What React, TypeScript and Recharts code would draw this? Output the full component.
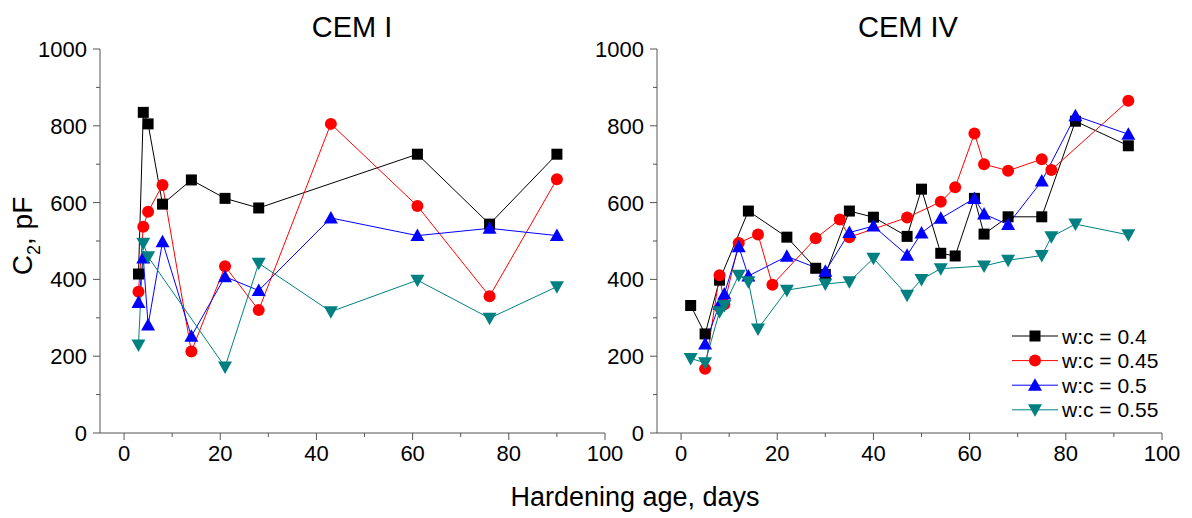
import { LineChart, Line, XAxis, YAxis, Legend } from 'recharts';

const FONT = 'Arial, "Liberation Sans", sans-serif';
const AXIS = '#555';

// series labels, colours, marker shapes
const seriesNames = ['w:c = 0.4', 'w:c = 0.45', 'w:c = 0.5', 'w:c = 0.55'];
const seriesColors = ['#000000', '#ff0000', '#0000ff', '#008080'];
const seriesShapes = ['square', 'circle', 'up', 'down'];

const xTicks = [0, 10, 20, 30, 40, 50, 60, 70, 80, 90, 100];
const yTicks = [0, 100, 200, 300, 400, 500, 600, 700, 800, 900, 1000];

// CEM I
const cem1Age04 = [3, 4, 5, 8, 14, 21, 28, 61, 76, 90];
const cem1C04 = [414, 835, 805, 596, 659, 611, 586, 726, 544, 726];
const cem1Age045 = [3, 4, 5, 8, 14, 21, 28, 43, 61, 76, 90];
const cem1C045 = [368, 537, 576, 646, 212, 434, 320, 805, 591, 356, 661];
const cem1Age05 = [3, 4, 5, 8, 14, 21, 28, 43, 61, 76, 90];
const cem1C05 = [340, 456, 281, 498, 252, 407, 371, 560, 514, 533, 514];
const cem1Age055 = [3, 4, 5, 21, 28, 43, 61, 76, 90];
const cem1C055 = [229, 494, 459, 172, 442, 316, 398, 299, 381];

// CEM IV
const cem4Age04 = [2, 5, 8, 14, 22, 28, 30, 35, 40, 47, 50, 54, 57, 61, 63, 68, 75, 82, 93];
const cem4C04 = [332, 258, 398, 578, 510, 429, 413, 578, 562, 512, 635, 468, 461, 611, 518, 563, 563, 812, 748];
const cem4Age045 = [5, 8, 9, 12, 16, 19, 28, 33, 35, 47, 54, 57, 61, 63, 68, 75, 77, 93];
const cem4C045 = [167, 411, 335, 495, 517, 386, 507, 556, 510, 561, 602, 640, 780, 700, 683, 713, 685, 865];
const cem4Age05 = [5, 8, 9, 12, 14, 22, 30, 35, 40, 47, 50, 54, 61, 63, 68, 75, 82, 93];
const cem4C05 = [232, 335, 362, 485, 409, 460, 421, 522, 539, 463, 521, 559, 611, 570, 543, 656, 826, 778];
const cem4Age055 = [2, 5, 8, 9, 12, 14, 16, 22, 30, 35, 40, 47, 50, 54, 63, 68, 75, 77, 82, 93];
const cem4C055 = [194, 183, 316, 332, 411, 394, 271, 372, 388, 394, 455, 359, 400, 428, 435, 450, 462, 511, 544, 516];

const toPoints = (ages: number[], vals: number[]) => ages.map((age, i) => ({ age, c: vals[i] }));

const cem1Series = [
  toPoints(cem1Age04, cem1C04),
  toPoints(cem1Age045, cem1C045),
  toPoints(cem1Age05, cem1C05),
  toPoints(cem1Age055, cem1C055),
];
const cem4Series = [
  toPoints(cem4Age04, cem4C04),
  toPoints(cem4Age045, cem4C045),
  toPoints(cem4Age05, cem4C05),
  toPoints(cem4Age055, cem4C055),
];

function Marker({ cx, cy, shape, color }: { cx: number; cy: number; shape: string; color: string }) {
  if (cx == null || cy == null) return null;
  if (shape === 'square') return <rect x={cx - 5.5} y={cy - 5.5} width={11} height={11} fill={color} />;
  if (shape === 'circle') return <circle cx={cx} cy={cy} r={6} fill={color} />;
  if (shape === 'up')
    return <polygon points={`${cx},${cy - 7} ${cx + 7},${cy + 5.5} ${cx - 7},${cy + 5.5}`} fill={color} />;
  return <polygon points={`${cx},${cy + 7} ${cx + 7},${cy - 5.5} ${cx - 7},${cy - 5.5}`} fill={color} />;
}

const renderXTick = (props: any) => {
  const { x, y, payload } = props;
  const major = payload.value % 20 === 0;
  return (
    <g>
      <line x1={x} y1={y} x2={x} y2={y + (major ? 7 : 4)} stroke={AXIS} />
      {major && (
        <text x={x} y={y + 28} textAnchor="middle" fontSize={22} fontFamily={FONT} fill="#000">
          {payload.value}
        </text>
      )}
    </g>
  );
};

const renderYTick = (props: any) => {
  const { x, y, payload } = props;
  const major = payload.value % 200 === 0;
  return (
    <g>
      <line x1={x - (major ? 7 : 4)} y1={y} x2={x} y2={y} stroke={AXIS} />
      {major && (
        <text x={x - 13} y={y + 8} textAnchor="end" fontSize={22} fontFamily={FONT} fill="#000">
          {payload.value}
        </text>
      )}
    </g>
  );
};

const renderLegend = (props: any) => {
  const payload = props.payload || [];
  return (
    <svg width={180} height={100} style={{ overflow: 'visible' }}>
      {payload.map((entry: any, i: number) => {
        const idx = seriesNames.indexOf(entry.value);
        const cy = 14 + i * 24.6;
        return (
          <g key={entry.value}>
            <line x1={7} y1={cy} x2={53} y2={cy} stroke={seriesColors[idx]} />
            <Marker cx={30} cy={cy} shape={seriesShapes[idx]} color={seriesColors[idx]} />
            <text x={57} y={cy + 7.5} fontSize={21} fontFamily={FONT} fill="#000">
              {entry.value}
            </text>
          </g>
        );
      })}
    </svg>
  );
};

function Panel({ series, width, margin, legend }: { series: { age: number; c: number }[][]; width: number; margin: any; legend?: boolean }) {
  return (
    <LineChart width={width} height={518} margin={margin}>
      <XAxis
        type="number"
        dataKey="age"
        domain={[-5, 100]}
        ticks={xTicks}
        interval={0}
        allowDataOverflow
        height={30}
        tickSize={0}
        tickMargin={0}
        tickLine={false}
        axisLine={{ stroke: AXIS }}
        tick={renderXTick}
      />
      <YAxis
        type="number"
        dataKey="c"
        domain={[0, 1000]}
        ticks={yTicks}
        interval={0}
        allowDataOverflow
        width={60}
        tickSize={0}
        tickMargin={0}
        tickLine={false}
        axisLine={{ stroke: AXIS }}
        tick={renderYTick}
      />
      {series.map((pts, i) => (
        <Line
          key={seriesNames[i]}
          data={pts}
          dataKey="c"
          name={seriesNames[i]}
          type="linear"
          stroke={seriesColors[i]}
          strokeWidth={1}
          isAnimationActive={false}
          activeDot={false}
          dot={(p: any) => (
            <Marker key={`${i}-${p.index}`} cx={p.cx} cy={p.cy} shape={seriesShapes[i]} color={seriesColors[i]} />
          )}
        />
      ))}
      {legend && (
        <Legend
          layout="vertical"
          align="center"
          verticalAlign="middle"
          content={renderLegend}
          wrapperStyle={{ left: 425, top: 322, width: 180, height: 100 }}
        />
      )}
    </LineChart>
  );
}

export default function App() {
  return (
    <div style={{ position: 'absolute', left: 0, top: 0, width: 1192, height: 518, background: '#fff', fontFamily: FONT }}>
      <div style={{ position: 'absolute', left: 0, top: 0 }}>
        <Panel series={cem1Series} width={640} margin={{ top: 49, right: 35, bottom: 55, left: 40 }} />
      </div>
      <div style={{ position: 'absolute', left: 580, top: 0 }}>
        <Panel series={cem4Series} width={612} margin={{ top: 49, right: 30, bottom: 55, left: 17 }} legend />
      </div>
      <svg width={1192} height={518} style={{ position: 'absolute', left: 0, top: 0, pointerEvents: 'none' }}>
        <text x={352} y={37} textAnchor="middle" fontSize={29} fontFamily={FONT} fill="#000">CEM I</text>
        <text x={908} y={37} textAnchor="middle" fontSize={29} fontFamily={FONT} fill="#000">CEM IV</text>
        <text x={635} y={506} textAnchor="middle" fontSize={27} fontFamily={FONT} fill="#000">Hardening age, days</text>
        <text transform="translate(32,236) rotate(-90)" textAnchor="middle" fontSize={28} fontFamily={FONT} fill="#000">
          C<tspan fontSize={18} dy={8}>2</tspan><tspan dy={-8}>, pF</tspan>
        </text>
      </svg>
    </div>
  );
}
